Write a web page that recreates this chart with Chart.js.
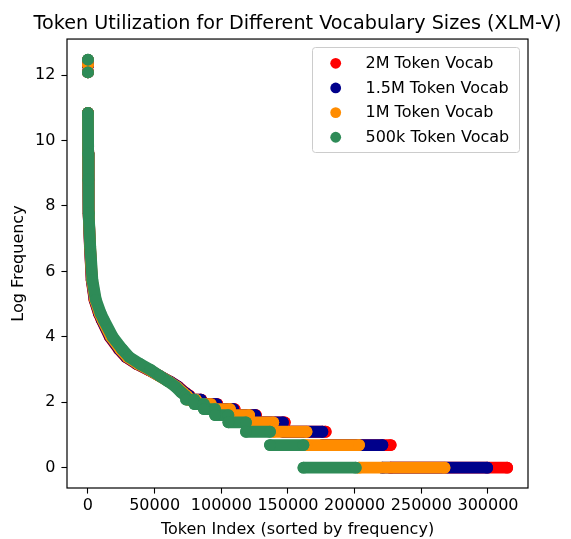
<!DOCTYPE html>
<html><head><meta charset="utf-8">
<script src="https://cdn.jsdelivr.net/npm/chart.js@4.4.0/dist/chart.umd.min.js"></script>
<style>html,body{margin:0;padding:0;background:#fff;}canvas{display:block;}</style>
</head><body>
<canvas id="c" width="571" height="539"></canvas>
<script>
const seriesLabels = ['2M Token Vocab', '1.5M Token Vocab', '1M Token Vocab', '500k Token Vocab'];
const seriesColors = ['#ff0000', '#00008b', '#ff8c00', '#2e8b57'];
const xTicks = [0, 50000, 100000, 150000, 200000, 250000, 300000];
const yTicks = [0, 2, 4, 6, 8, 10, 12];

// Most frequent tokens (isolated points at the top)
const topX_2M = [0, 1, 2];     const topY_2M = [12.45, 12.30, 12.10];
const topX_15M = [0, 1, 2];    const topY_15M = [12.46, 12.30, 12.08];
const topX_1M = [0, 1, 2];     const topY_1M = [12.46, 12.31, 12.08];
const topX_500k = [0, 1];      const topY_500k = [12.47, 12.08];

// Continuous head of the distribution (token index, log frequency)
const curveY = [10.84, 9.6, 8.8, 7.78, 6.76, 5.74, 5.13, 4.72, 4.52, 4.0, 3.62, 3.38, 3.17, 2.99, 2.80, 2.64, 2.48, 2.30, 2.197];
const curveX_2M   = [3, 150, 300, 650, 1450, 2750, 4900, 8100, 10200, 16300, 23200, 28500, 36600, 45400, 54000, 61200, 67500, 72600, 76300];
const curveX_15M  = [3, 150, 300, 660, 1500, 2850, 5100, 8400, 10500, 16700, 23600, 28900, 37000, 45600, 54000, 61000, 67200, 72200, 75900];
const curveX_1M   = [3, 150, 300, 680, 1600, 3000, 5400, 8800, 11000, 17300, 24300, 29600, 37600, 46000, 53800, 60500, 66400, 71200, 74500];
const curveX_500k = [3, 150, 300, 700, 1700, 3300, 5900, 9500, 11800, 18500, 25700, 31000, 39000, 47000, 54000, 60000, 65500, 70000, 73000];

// Tail: runs of tokens sharing the same small count (log of 8,7,...,1)
const levelY = [2.079, 1.946, 1.792, 1.609, 1.386, 1.099, 0.693, 0];
const runStart_2M   = [76300, 85000, 97000, 110000, 126000, 147600, 178300, 227000];
const runEnd_2M     = [85000, 97000, 110000, 126000, 147600, 178300, 227000, 314400];
const runStart_15M  = [75900, 84600, 96400, 109000, 125500, 146200, 175800, 220800];
const runEnd_15M    = [84600, 96400, 109000, 125500, 146200, 175800, 220800, 299400];
const runStart_1M   = [74500, 81000, 92100, 106500, 120900, 139000, 163900, 203300];
const runEnd_1M     = [81000, 92100, 106500, 120900, 139000, 163900, 203300, 267400];
const runStart_500k = [73600, 79800, 86900, 95300, 105300, 118500, 136500, 161600];
const runEnd_500k   = [79800, 86900, 95300, 105300, 118500, 136500, 161600, 200800];

function buildSeries(topX, topY, curveX, cY, runStart, runEnd, lvY) {
  const pts = [];
  const gap = (x) => pts.push({x: x, y: null});
  topX.forEach((x, i) => { pts.push({x: x, y: topY[i]}); gap(x); });
  curveX.forEach((x, i) => pts.push({x: x, y: cY[i]}));
  gap(curveX[curveX.length - 1]);
  runStart.forEach((s, i) => {
    pts.push({x: s, y: lvY[i]});
    pts.push({x: runEnd[i], y: lvY[i]});
    gap(runEnd[i]);
  });
  return pts;
}

const seriesData = [
  buildSeries(topX_2M, topY_2M, curveX_2M, curveY, runStart_2M, runEnd_2M, levelY),
  buildSeries(topX_15M, topY_15M, curveX_15M, curveY, runStart_15M, runEnd_15M, levelY),
  buildSeries(topX_1M, topY_1M, curveX_1M, curveY, runStart_1M, runEnd_1M, levelY),
  buildSeries(topX_500k, topY_500k, curveX_500k, curveY, runStart_500k, runEnd_500k, levelY)
];

const R = 5.9;
const datasets = seriesData.map((d, i) => ({
  label: seriesLabels[i],
  data: d,
  showLine: true,
  spanGaps: false,
  borderColor: seriesColors[i],
  backgroundColor: seriesColors[i],
  borderWidth: 2 * R,
  borderCapStyle: 'round',
  borderJoinStyle: 'round',
  tension: 0,
  pointRadius: R,
  pointHoverRadius: R,
  pointBorderWidth: 0,
  pointBackgroundColor: seriesColors[i],
  order: seriesLabels.length - 1 - i
}));

const FONT = "'DejaVu Sans'";
const FS = 16;
Chart.defaults.font.family = FONT;
Chart.defaults.color = '#000';

const framePlugin = {
  id: 'frame',
  afterDatasetsDraw(chart) {
    const {ctx, chartArea: a} = chart;
    ctx.save();
    ctx.strokeStyle = '#000';
    ctx.lineWidth = 1.2;
    ctx.strokeRect(a.left, a.top, a.right - a.left, a.bottom - a.top);
    ctx.restore();
  }
};

const legendPlugin = {
  id: 'boxLegend',
  afterDraw(chart) {
    const ctx = chart.ctx;
    const bx = 312.5, by = 47.5, bw = 207, bh = 105, r = 3;
    ctx.save();
    ctx.beginPath();
    ctx.moveTo(bx + r, by);
    ctx.lineTo(bx + bw - r, by); ctx.arcTo(bx + bw, by, bx + bw, by + r, r);
    ctx.lineTo(bx + bw, by + bh - r); ctx.arcTo(bx + bw, by + bh, bx + bw - r, by + bh, r);
    ctx.lineTo(bx + r, by + bh); ctx.arcTo(bx, by + bh, bx, by + bh - r, r);
    ctx.lineTo(bx, by + r); ctx.arcTo(bx, by, bx + r, by, r);
    ctx.closePath();
    ctx.fillStyle = 'rgba(255,255,255,0.8)';
    ctx.fill();
    ctx.strokeStyle = '#cccccc';
    ctx.lineWidth = 1;
    ctx.stroke();
    ctx.font = FS + "px " + FONT;
    ctx.textBaseline = 'middle';
    ctx.textAlign = 'left';
    chart.data.datasets.forEach((ds, i) => {
      const cy = 63.3 + i * 24.65;
      ctx.beginPath();
      ctx.arc(335.7, cy, 5.4, 0, Math.PI * 2);
      ctx.fillStyle = ds.backgroundColor;
      ctx.fill();
      ctx.fillStyle = '#000';
      ctx.fillText(ds.label, 365.5, cy + 0.5);
    });
    ctx.restore();
  }
};

new Chart(document.getElementById('c'), {
  type: 'scatter',
  data: {datasets: datasets},
  options: {
    responsive: false,
    animation: false,
    devicePixelRatio: 1,
    layout: {padding: {left: 24, right: 0, top: 0, bottom: 0}},
    plugins: {
      legend: {display: false},
      tooltip: {enabled: false},
      title: {
        display: true,
        text: 'Token Utilization for Different Vocabulary Sizes (XLM-V)',
        font: {family: FONT, size: 19.2, weight: 'normal'},
        color: '#000',
        padding: {top: 12, bottom: 4},
        fullSize: true
      }
    },
    scales: {
      x: {
        type: 'linear',
        min: -15720,
        max: 330000,
        afterFit(s) { s.height = 51; },
        afterBuildTicks(s) { s.ticks = xTicks.map(v => ({value: v})); },
        ticks: {
          font: {family: FONT, size: FS},
          color: '#000',
          padding: 3,
          maxRotation: 0,
          autoSkip: false,
          callback: (v) => String(v)
        },
        grid: {display: true, drawOnChartArea: false, drawTicks: true, tickLength: 5.6, color: '#000', tickColor: '#000', tickWidth: 1.1},
        border: {display: false},
        title: {display: true, text: 'Token Index (sorted by frequency)', font: {family: FONT, size: FS}, color: '#000', padding: {top: 0, bottom: 0}}
      },
      y: {
        type: 'linear',
        min: -0.62,
        max: 13.1,
        afterFit(s) { s.width = 43; },
        afterBuildTicks(s) { s.ticks = yTicks.map(v => ({value: v})); },
        ticks: {
          font: {family: FONT, size: FS},
          color: '#000',
          padding: 6,
          autoSkip: false,
          callback: (v) => String(v)
        },
        grid: {display: true, drawOnChartArea: false, drawTicks: true, tickLength: 5.6, color: '#000', tickColor: '#000', tickWidth: 1.1},
        border: {display: false},
        title: {display: true, text: 'Log Frequency', font: {family: FONT, size: FS}, color: '#000', padding: {top: -14.6, bottom: 0}}
      },
      yRight: {
        type: 'linear',
        position: 'right',
        display: true,
        afterFit(s) { s.width = 43; },
        ticks: {display: false},
        grid: {display: false, drawTicks: false},
        border: {display: false},
        title: {display: false}
      }
    }
  },
  plugins: [framePlugin, legendPlugin]
});
</script>
</body></html>
